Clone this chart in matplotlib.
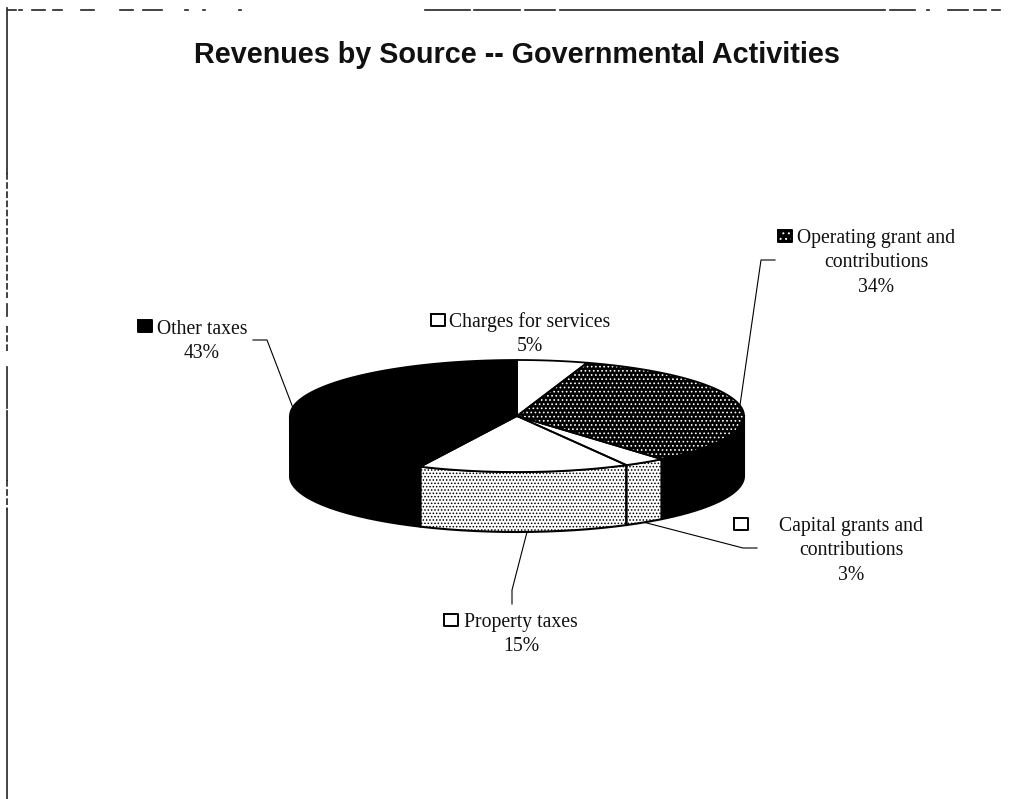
import numpy as np
import matplotlib
matplotlib.use("Agg")
import matplotlib.pyplot as plt

plt.rcParams['hatch.linewidth'] = 0.7

sources = [["Charges for services"], ["Operating grant and", "contributions"], ["Capital grants and", "contributions"], ["Property taxes"], ["Other taxes"]]
shares = [5, 34, 3, 15, 43]
share_labels = ["5%", "34%", "3%", "15%", "43%"]

top_fill = ["white", "black", "white", "white", "black"]
top_hatch = [None, "....", None, None, None]
side_fill = ["white", "black", "white", "white", "black"]
side_hatch = [None, None, ".....", ".....", None]
box_fill = ["white", "black", "white", "white", "black"]
box_hatch = [None, "...", None, None, None]

cx, cy, rx, ry, depth = 517, 416, 227, 56, 60

# text centre, legend box centre, leader line for each slice
label_xy = [(530, 322), (876, 238), (851, 526), (521, 622), (202, 329)]
box_xy = [(438, 320), (785, 236), (741, 524), (451, 620), (145, 326)]
leaders = [
    None,
    ([775, 761, 740], [260, 260, 405]),
    ([757, 743, 643], [548, 548, 522]),
    ([527, 512, 512], [532, 590, 604]),
    ([253, 267, 293], [340, 340, 408]),
]
line_step = 24.5

# pieces of the outer frame
left_solid = [(8, 173), (304, 316), (367, 408), (411, 480), (510, 799)]
left_dotted = [(173, 298), (326, 352), (480, 510)]
top_solid = [(8, 16), (19, 22), (32, 45), (53, 62), (81, 94), (120, 133), (143, 162), (185, 188), (203, 205), (239, 241),
             (425, 470), (474, 520), (525, 555), (560, 885), (890, 915), (927, 929), (948, 968), (974, 986), (992, 1000)]


def ellipse_pts(a0, a1, dy=0):
    t = np.radians(np.linspace(a0, a1, 120))
    return cx + rx * np.sin(t), cy - ry * np.cos(t) + dy


fig = plt.figure(figsize=(10.16, 7.99), dpi=100)
ax = fig.add_axes([0, 0, 1, 1])
ax.set_xlim(0, 1016)
ax.set_ylim(799, 0)
ax.axis("off")

edges = np.cumsum([0] + shares) * 3.6

# side wall first, only the front half of the disc shows
for i in range(len(shares)):
    a0, a1 = max(edges[i], 90), min(edges[i + 1], 270)
    if a0 >= a1:
        continue
    xt, yt = ellipse_pts(a0, a1)
    xb, yb = ellipse_pts(a1, a0, depth)
    ax.fill(np.r_[xt, xb], np.r_[yt, yb], facecolor=side_fill[i],
            edgecolor="white" if side_fill[i] == "black" else "black",
            hatch=side_hatch[i], linewidth=0, zorder=2)
    ax.plot(np.r_[xt, xb, xt[0]], np.r_[yt, yb, yt[0]], color="black", lw=1.5, zorder=3)

# top face
for i in range(len(shares)):
    x, y = ellipse_pts(edges[i], edges[i + 1])
    px, py = np.r_[cx, x, cx], np.r_[cy, y, cy]
    ax.fill(px, py, facecolor=top_fill[i],
            edgecolor="white" if top_fill[i] == "black" else "black",
            hatch=top_hatch[i], linewidth=0, zorder=4)
    ax.plot(px, py, color="black", lw=1.3, zorder=5)

for i, name in enumerate(sources):
    lx, ly = label_xy[i]
    for j, line in enumerate(name + [share_labels[i]]):
        ax.text(lx, ly + j * line_step, line, family="Liberation Serif", fontsize=14.2,
                ha="center", va="center", color="#111111", zorder=6)
    bx, by = box_xy[i]
    ax.fill([bx - 7, bx + 7, bx + 7, bx - 7], [by - 6, by - 6, by + 6, by + 6], facecolor=box_fill[i],
            edgecolor="white" if box_fill[i] == "black" else "black", hatch=box_hatch[i], lw=0, zorder=6)
    ax.plot([bx - 7, bx + 7, bx + 7, bx - 7, bx - 7], [by - 6, by - 6, by + 6, by + 6, by - 6],
            color="black", lw=1.4, zorder=7)
    if leaders[i]:
        ax.plot(leaders[i][0], leaders[i][1], color="black", lw=0.8, zorder=1)

ax.text(517, 55, "Revenues by Source -- Governmental Activities", family="Liberation Sans",
        fontsize=20.7, fontweight="bold", ha="center", va="center", color="#111111")

# outer frame, broken up along the top and left
for y0, y1 in left_solid:
    ax.plot([6.5, 6.5], [y0, y1], color="#222222", lw=1.2)
for y0, y1 in left_dotted:
    ax.plot([6.5, 6.5], [y0, y1], color="#222222", lw=1.2, dashes=(4, 1.5))
for x0, x1 in top_solid:
    ax.plot([x0, x1], [10, 10], color="#222222", lw=1.2)

fig.savefig("out.png", dpi=100)
